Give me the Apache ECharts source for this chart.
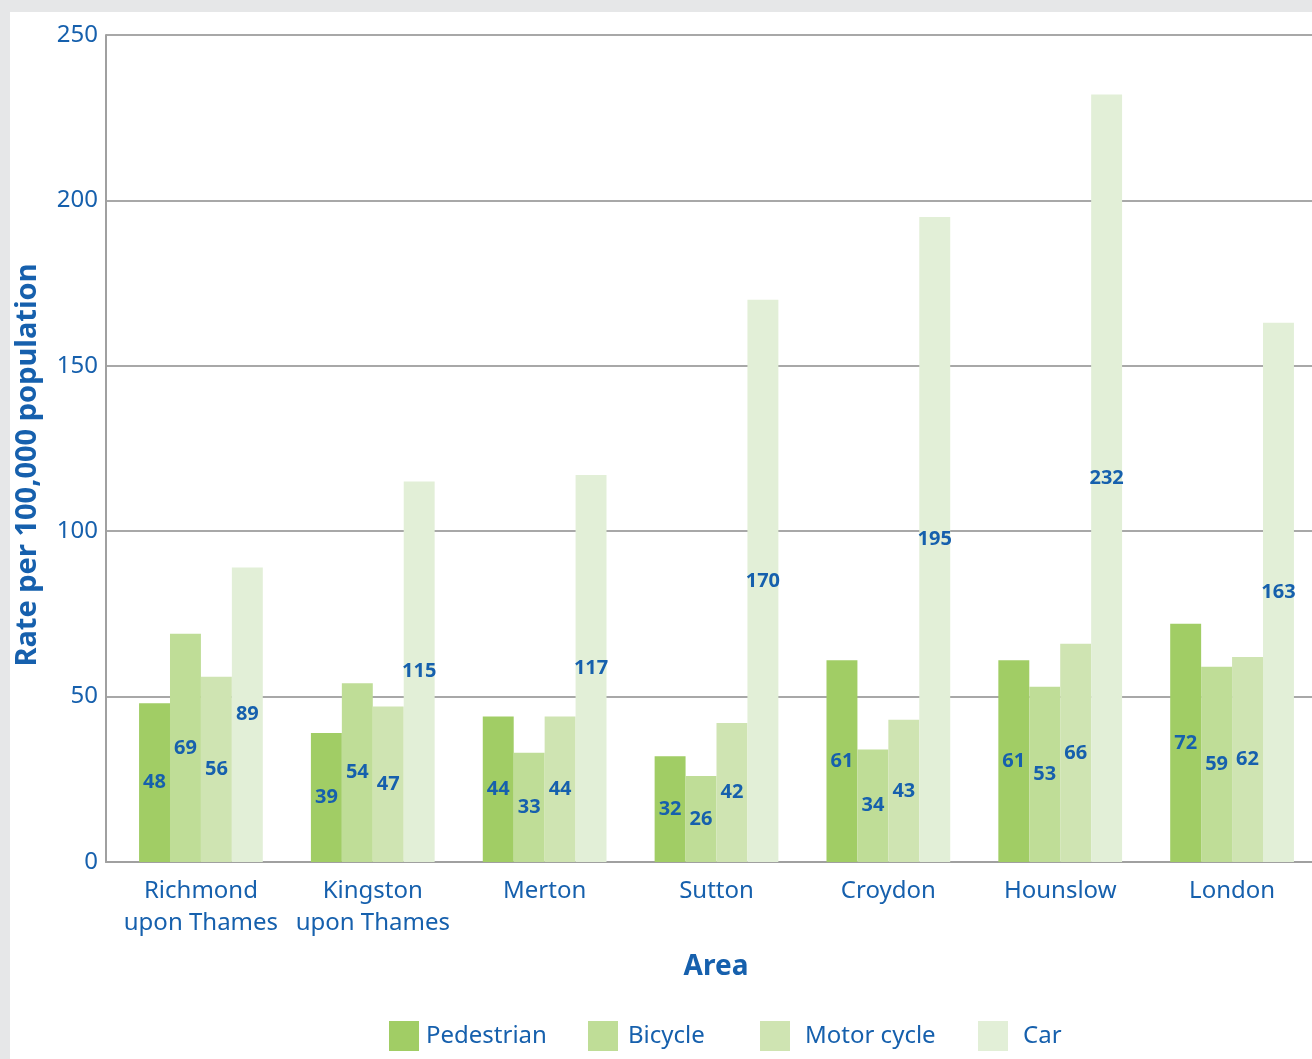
<!DOCTYPE html>
<html>
<head>
<meta charset="utf-8">
<script src="https://cdn.jsdelivr.net/npm/echarts@6/dist/echarts.min.js"></script>
<style>
  html, body { margin: 0; padding: 0; background: #e6e7e8; overflow: hidden; }
  #chart { width: 1318px; height: 1059px; }
</style>
</head>
<body>
<div id="chart"></div>
<script>
// Casualty rates by area and road-user type
const areas = ['Richmond\nupon Thames', 'Kingston\nupon Thames', 'Merton', 'Sutton', 'Croydon', 'Hounslow', 'London'];
const pedestrian = [48, 39, 44, 32, 61, 61, 72];
const bicycle    = [69, 54, 33, 26, 34, 53, 59];
const motorCycle = [56, 47, 44, 42, 43, 66, 62];
const car        = [89, 115, 117, 170, 195, 232, 163];
const seriesNames = ['Pedestrian', 'Bicycle', 'Motor cycle', 'Car'];
const yTicks = [0, 50, 100, 150, 200, 250];

const BLUE = '#1660ad';
const FONT = '"Noto Sans", "Open Sans", sans-serif';
const colors = ['#a1cd65', '#bfdd97', '#cfe4b2', '#e2efd7'];

const chart = echarts.init(document.getElementById('chart'));

function barSeries(name, data, color) {
  return {
    name: name,
    type: 'bar',
    xAxisIndex: 1,
    yAxisIndex: 1,
    data: data,
    barGap: '0%',
    barCategoryGap: '28%',
    itemStyle: { color: color },
    label: {
      show: true,
      position: 'inside',
      color: BLUE,
      fontFamily: FONT,
      fontWeight: 'bold',
      fontSize: 20
    }
  };
}

// one legend block per series so each entry sits at its own spot
const legendLefts = [389, 588, 760, 978];
const legendPads = [2, 5, 10, 10];
const legends = seriesNames.map((n, i) => ({
  data: [n],
  left: legendLefts[i],
  top: 1021,
  padding: 0,
  itemWidth: 30,
  itemHeight: 30,
  itemGap: 0,
  icon: 'rect',
  textStyle: { color: BLUE, fontFamily: FONT, fontSize: 24, padding: [0, 0, 0, legendPads[i]] }
}));

chart.setOption({
  animation: false,
  backgroundColor: '#e6e7e8',
  color: colors,
  graphic: [
    { type: 'rect', z: -10, shape: { x: 10, y: 12, width: 1308, height: 1047 }, style: { fill: '#ffffff' } },
    {
      type: 'text', x: 28, y: 465, rotation: Math.PI / 2,
      style: {
        text: 'Rate per 100,000 population', fill: BLUE,
        font: 'bold 29px ' + FONT, textAlign: 'center', textVerticalAlign: 'middle'
      }
    },
    {
      type: 'text', x: 716, y: 967,
      style: {
        text: 'Area', fill: BLUE,
        font: 'bold 28px ' + FONT, textAlign: 'center', textVerticalAlign: 'middle'
      }
    }
  ],
  legend: legends,
  grid: [
    { left: 106, right: 0, top: 35, bottom: 197 },
    { left: 115, right: 0, top: 35, bottom: 197 }
  ],
  xAxis: [
    {
      type: 'category', gridIndex: 0, data: areas,
      axisLine: { show: true, lineStyle: { color: '#a0a0a0', width: 2 } },
      axisTick: { show: false }, axisLabel: { show: false }
    },
    {
      type: 'category', gridIndex: 1, data: areas,
      axisLine: { show: false }, axisTick: { show: false },
      axisLabel: {
        color: BLUE, fontFamily: FONT, fontSize: 24, lineHeight: 32, margin: 13,
        interval: 0
      }
    }
  ],
  yAxis: [
    {
      type: 'value', gridIndex: 0, min: 0, max: 250, interval: 50,
      axisLine: { show: true, lineStyle: { color: '#a0a0a0', width: 2 } },
      axisTick: { show: false },
      splitLine: { show: true, lineStyle: { color: '#a8a8a8', width: 2 } },
      axisLabel: {
        color: BLUE, fontFamily: FONT, fontSize: 24, margin: 8,
        formatter: v => (yTicks.indexOf(v) >= 0 ? String(v) : '')
      }
    },
    {
      type: 'value', gridIndex: 1, min: 0, max: 250, interval: 50,
      axisLine: { show: false }, axisTick: { show: false },
      splitLine: { show: false }, axisLabel: { show: false }
    }
  ],
  series: [
    barSeries(seriesNames[0], pedestrian, colors[0]),
    barSeries(seriesNames[1], bicycle, colors[1]),
    barSeries(seriesNames[2], motorCycle, colors[2]),
    barSeries(seriesNames[3], car, colors[3])
  ]
});
</script>
</body>
</html>
